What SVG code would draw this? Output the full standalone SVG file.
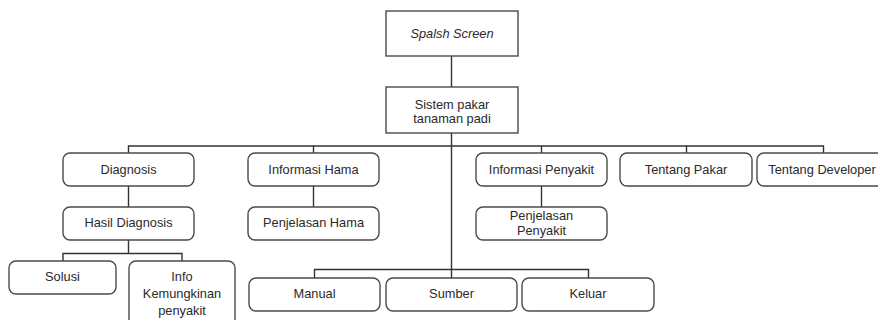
<svg xmlns="http://www.w3.org/2000/svg" width="878" height="320" viewBox="0 0 878 320">
<style>
.box{fill:#fff;stroke:#4a4a4a;stroke-width:1.4}
.t{font-family:"Liberation Sans",Arial,sans-serif;font-size:12.8px;fill:#2a2a2a;text-anchor:middle}
.c{fill:none;stroke:#333;stroke-width:1.4}
</style>
<rect width="878" height="320" fill="#fff"/>
<g id="connectors">
<path class="c" d="M451.5 56V87M451.5 133V278"/>
<path class="c" d="M128.5 153V146H823.5V153M313.5 146V153M541.5 146V153M686.5 146V153"/>
<path class="c" d="M128.5 186V207M313.5 186V207M541.5 186V207"/>
<path class="c" d="M128.5 240V253.5M63 261V253.5H182V261"/>
<path class="c" d="M314.5 278V269.5H588.5V278"/>
</g>
<g id="splash"><rect class="box" x="386" y="11" width="132" height="45"/><text class="t" x="452" y="38" font-style="italic">Spalsh Screen</text></g>
<g id="sistem"><rect class="box" x="386" y="87" width="132" height="46"/><text class="t" x="452" y="108.5">Sistem pakar</text><text class="t" x="452" y="122.5">tanaman padi</text></g>
<g id="diagnosis"><rect class="box" x="63" y="153" width="131" height="33" rx="7"/><text class="t" x="128.5" y="173.5">Diagnosis</text></g>
<g id="info-hama"><rect class="box" x="248" y="153" width="131" height="33" rx="7"/><text class="t" x="313.5" y="173.5">Informasi Hama</text></g>
<g id="info-penyakit"><rect class="box" x="476" y="153" width="131" height="33" rx="7"/><text class="t" x="541.5" y="173.5">Informasi Penyakit</text></g>
<g id="tentang-pakar"><rect class="box" x="620" y="153" width="132" height="33" rx="7"/><text class="t" x="686" y="173.5">Tentang Pakar</text></g>
<g id="tentang-developer"><rect class="box" x="757" y="153" width="132" height="33" rx="7"/><text class="t" x="822" y="173.5">Tentang Developer</text></g>
<g id="hasil"><rect class="box" x="63" y="207" width="131" height="33" rx="7"/><text class="t" x="128.5" y="227">Hasil Diagnosis</text></g>
<g id="penjelasan-hama"><rect class="box" x="248" y="207" width="131" height="33" rx="7"/><text class="t" x="313.5" y="227">Penjelasan Hama</text></g>
<g id="penjelasan-penyakit"><rect class="box" x="476" y="207" width="131" height="33" rx="7"/><text class="t" x="541.5" y="220">Penjelasan</text><text class="t" x="541.5" y="235">Penyakit</text></g>
<g id="solusi"><rect class="box" x="9" y="261" width="107" height="33" rx="7"/><text class="t" x="62.5" y="281">Solusi</text></g>
<g id="info-kemungkinan"><rect class="box" x="129" y="261" width="106" height="70" rx="7"/><text class="t" x="182" y="281">Info</text><text class="t" x="182" y="298">Kemungkinan</text><text class="t" x="182" y="314.5">penyakit</text></g>
<g id="manual"><rect class="box" x="249" y="278" width="131" height="33" rx="7"/><text class="t" x="314.5" y="297.5">Manual</text></g>
<g id="sumber"><rect class="box" x="386" y="278" width="131" height="33" rx="7"/><text class="t" x="451.5" y="297.5">Sumber</text></g>
<g id="keluar"><rect class="box" x="522" y="278" width="132" height="33" rx="7"/><text class="t" x="588" y="297.5">Keluar</text></g>
</svg>
